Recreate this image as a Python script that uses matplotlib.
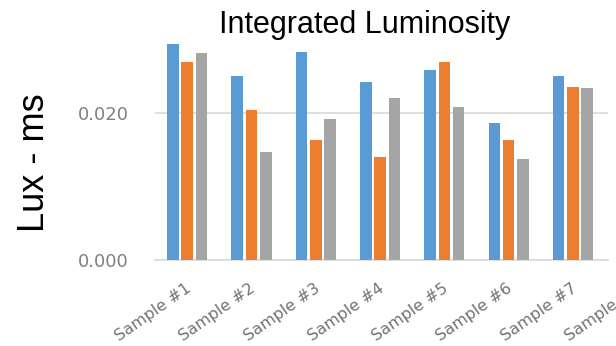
import matplotlib
matplotlib.use("Agg")
import matplotlib.pyplot as plt
import numpy as np

# Integrated luminosity per sample, three measurements each
categories = ["Sample #1", "Sample #2", "Sample #3", "Sample #4",
              "Sample #5", "Sample #6", "Sample #7", "Sample #8"]
series_a = [0.0294, 0.0250, 0.0283, 0.0242, 0.0259, 0.0186, 0.0250]
series_b = [0.0269, 0.0204, 0.0163, 0.0140, 0.0269, 0.0163, 0.0236]
series_c = [0.0281, 0.0147, 0.0192, 0.0220, 0.0208, 0.0137, 0.0234]
y_ticks = [0.000, 0.020]
y_tick_labels = ["0.000", "0.020"]

colors = ["#5B9BD5", "#ED7D31", "#A5A5A5"]

fig = plt.figure(figsize=(6.16, 3.46), dpi=100)
ax = fig.add_axes([155 / 616, 86 / 346, 453 / 616, 220.5 / 346])

x = np.arange(len(series_a))
offset = 0.222
width = 0.18
for k, (vals, col) in enumerate(zip([series_a, series_b, series_c], colors)):
    ax.bar(x + (k - 1) * offset, vals, width=width, color=col, zorder=3)

ax.set_xlim(-0.5, 6.545)
ax.set_ylim(0, 0.03)

ax.set_yticks(y_ticks)
ax.set_yticklabels(y_tick_labels, fontsize=13, color="#808080",
                   family="DejaVu Sans")
ax.tick_params(axis="y", length=0, pad=19)
ax.set_xticks([])

ax.grid(axis="y", color="#D9D9D9", linewidth=1.2, zorder=0)
for side in ["top", "right", "left"]:
    ax.spines[side].set_visible(False)
ax.spines["bottom"].set_color("#D9D9D9")
ax.spines["bottom"].set_linewidth(1.2)

# Rotated category labels (drawn for every category, even past the plot edge)
for i, name in enumerate(categories):
    ax.annotate(name, xy=(i, 0), xycoords=("data", "axes fraction"),
                xytext=(-2, -21), textcoords="offset pixels",
                rotation=35, rotation_mode="anchor", ha="right", va="top",
                fontsize=11.5, color="#737373", family="DejaVu Sans",
                annotation_clip=False)

fig.text(365 / 616, 1 - 32.7 / 346, "Integrated Luminosity",
         ha="center", va="baseline", fontsize=22,
         family="Liberation Sans", color="black")
fig.text(34 / 616, 1 - 163 / 346, "Lux - ms", rotation=90,
         ha="center", va="center", fontsize=26,
         family="Liberation Sans", color="black")

fig.savefig("out.png", dpi=100)
